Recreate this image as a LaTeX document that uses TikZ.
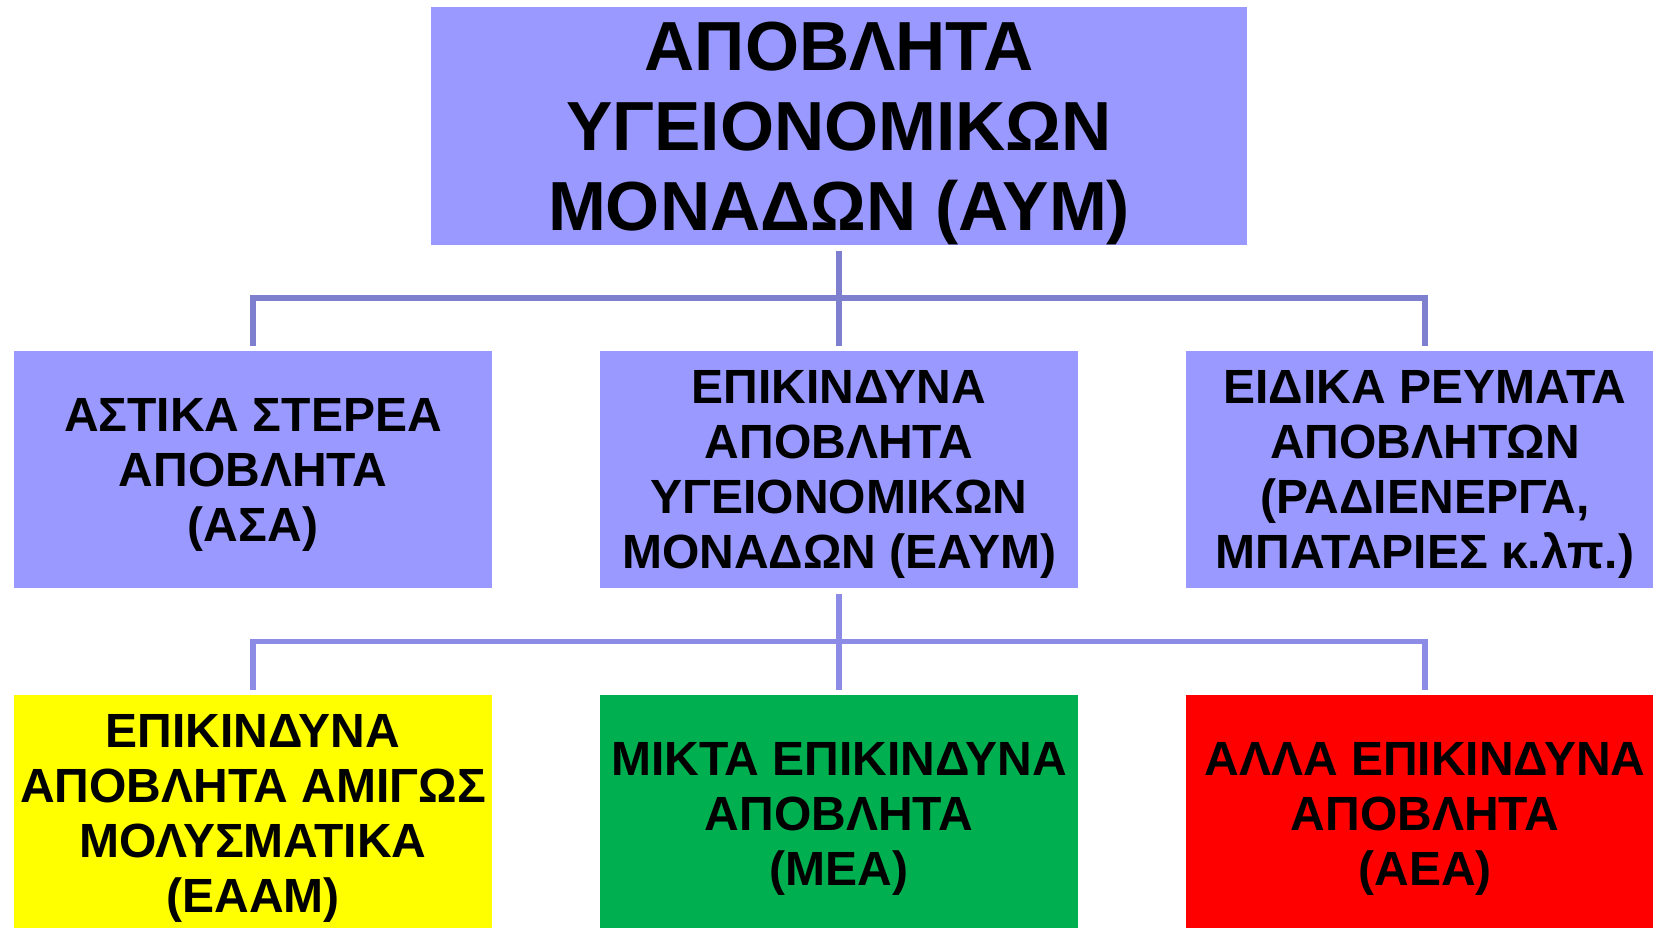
\documentclass[tikz,border=0pt]{standalone}
\usepackage{fontspec}
\setmainfont{Liberation Sans}
\definecolor{boxblue}{RGB}{153,153,255}
\definecolor{lineup}{RGB}{127,127,207}
\definecolor{linedown}{RGB}{140,140,230}
\definecolor{eaamyellow}{RGB}{255,255,0}
\definecolor{meagreen}{RGB}{0,176,80}
\definecolor{aeared}{RGB}{255,0,0}
\begin{document}
\begin{tikzpicture}[x=1pt,y=-1pt,
    head/.style={fill=boxblue,inner sep=0pt,minimum width=816pt,minimum height=238pt,
      align=center,text depth=0pt,font=\fontsize{69.5pt}{80pt}\selectfont\bfseries},
    cat/.style={fill=#1,inner sep=0pt,minimum width=478pt,minimum height=237pt,
      align=center,text depth=-2pt,font=\fontsize{48pt}{55pt}\selectfont\bfseries},
    link/.style={draw=#1,line width=5.5pt}]
  \useasboundingbox (0,0) rectangle (1653,928);
  \clip (0,0) rectangle (1653,928);
  \path
    (839,126) node[head] (aym) {ΑΠΟΒΛΗΤΑ\\ΥΓΕΙΟΝΟΜΙΚΩΝ\\ΜΟΝΑΔΩΝ (ΑΥΜ)}
    (253,469.5) node[cat=boxblue] (asa) {ΑΣΤΙΚΑ ΣΤΕΡΕΑ\\ΑΠΟΒΛΗΤΑ\\(ΑΣΑ)}
    (839,469.5) node[cat=boxblue] (eaym) {ΕΠΙΚΙΝΔΥΝΑ\\ΑΠΟΒΛΗΤΑ\\ΥΓΕΙΟΝΟΜΙΚΩΝ\\ΜΟΝΑΔΩΝ (ΕΑΥΜ)}
    (1425,469.5) node[cat=boxblue] (eidika) {ΕΙΔΙΚΑ ΡΕΥΜΑΤΑ\\ΑΠΟΒΛΗΤΩΝ\\(ΡΑΔΙΕΝΕΡΓΑ,\\ΜΠΑΤΑΡΙΕΣ κ.λπ.)}
    (253,813.5) node[cat=eaamyellow] (eaam) {ΕΠΙΚΙΝΔΥΝΑ\\ΑΠΟΒΛΗΤΑ ΑΜΙΓΩΣ\\ΜΟΛΥΣΜΑΤΙΚΑ\\(ΕΑΑΜ)}
    (839,813.5) node[cat=meagreen] (mea) {ΜΙΚΤΑ ΕΠΙΚΙΝΔΥΝΑ\\ΑΠΟΒΛΗΤΑ\\(ΜΕΑ)}
    (1425,813.5) node[cat=aeared] (aea) {ΑΛΛΑ ΕΠΙΚΙΝΔΥΝΑ\\ΑΠΟΒΛΗΤΑ\\(ΑΕΑ)};
  \coordinate (bus1) at (839,298);
  \coordinate (bus2) at (839,641.5);
  \begin{scope}[-]
    \draw[link=lineup] ([yshift=-6pt]aym.south) -- ([yshift=5pt]eaym.north);
    \draw[link=lineup] ([yshift=5pt]asa.north) |- (bus1) -| ([yshift=5pt]eidika.north);
    \draw[link=linedown] ([yshift=-6pt]eaym.south) -- ([yshift=5pt]mea.north);
    \draw[link=linedown] ([yshift=5pt]eaam.north) |- (bus2) -| ([yshift=5pt]aea.north);
  \end{scope}
\end{tikzpicture}
\end{document}
